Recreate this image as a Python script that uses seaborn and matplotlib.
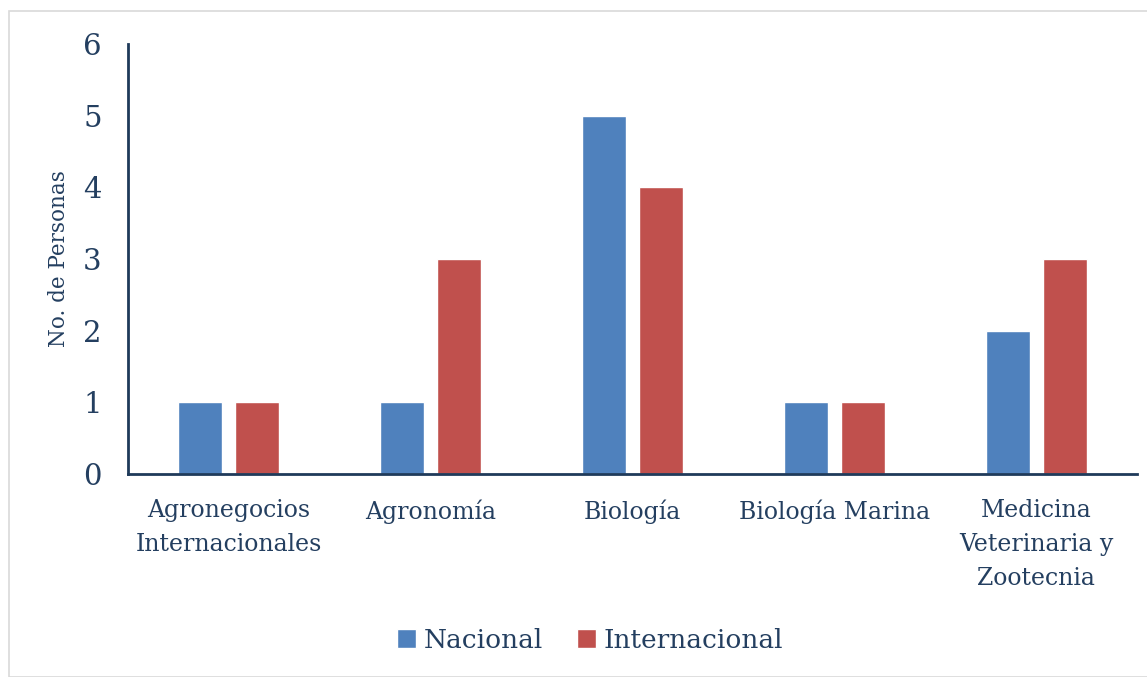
import pandas as pd
import matplotlib.pyplot as plt
import seaborn as sns
from matplotlib.patches import Rectangle

carreras = ['Agronegocios\nInternacionales', 'Agronomía', 'Biología',
            'Biología Marina', 'Medicina\nVeterinaria y\nZootecnia']
nacional = [1, 1, 5, 1, 2]
internacional = [1, 3, 4, 1, 3]
series = ['Nacional', 'Internacional']
colores = ['#4F81BD', '#C0504D']
texto = '#243F60'

df = pd.DataFrame({
    'carrera': carreras * 2,
    'personas': nacional + internacional,
    'tipo': [series[0]] * len(carreras) + [series[1]] * len(carreras),
})

sns.set_style('white')
plt.rcParams['font.family'] = ['DejaVu Serif']

fig = plt.figure(figsize=(11.47, 6.77), dpi=100)
ax = fig.add_axes([128 / 1147, 1 - 474 / 677, (1137 - 128) / 1147, (474 - 44) / 677])

sns.barplot(data=df, x='carrera', y='personas', hue='tipo', palette=colores,
            width=0.564, gap=0.227, ax=ax, saturation=1)

ax.set_xlim(-0.5, 4.5)
ax.set_ylim(0, 6)
ax.set_yticks(range(7))
ax.tick_params(axis='y', labelsize=21, colors=texto, length=0, pad=19)
ax.tick_params(axis='x', labelsize=17, colors=texto, length=0, pad=18)
for t in ax.get_xticklabels():
    t.set_linespacing(1.6)
ax.set_xlabel('')
ax.set_ylabel('No. de Personas', fontsize=15.5, color=texto, labelpad=9)
sns.despine(ax=ax)
for s in ['left', 'bottom']:
    ax.spines[s].set_color('#1F3A5A')
    ax.spines[s].set_linewidth(2)

leg = ax.legend(loc='center', bbox_to_anchor=(590 / 1147, 1 - 640 / 677),
                bbox_transform=fig.transFigure, ncol=2, frameon=False,
                fontsize=19, handlelength=0.7, handleheight=0.7,
                handletextpad=0.3, columnspacing=1.3)
for t in leg.get_texts():
    t.set_color(texto)

fig.patches.append(Rectangle((9 / 1147, 0), 1, 1 - 11 / 677, transform=fig.transFigure,
                             fill=False, edgecolor='#D9D9D9', linewidth=1.2))

fig.savefig('out.png', dpi=100)
